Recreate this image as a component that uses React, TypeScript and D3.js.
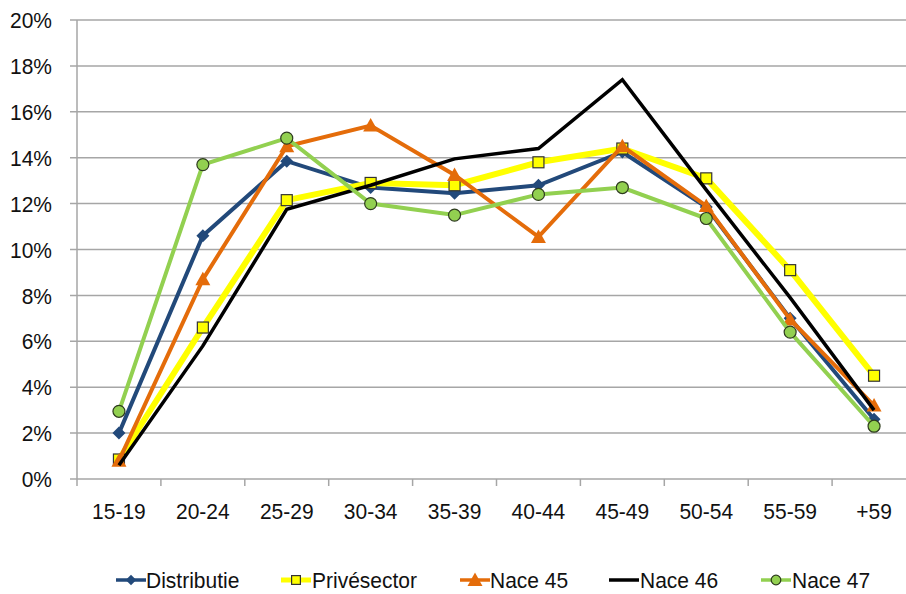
import React from "react";
import * as d3 from "d3";

const categories = ["15-19", "20-24", "25-29", "30-34", "35-39", "40-44", "45-49", "50-54", "55-59", "+59"];
const distributie = [2.0, 10.6, 13.85, 12.7, 12.45, 12.8, 14.25, 11.85, 7.0, 2.6];
const privesector = [0.85, 6.6, 12.15, 12.9, 12.8, 13.8, 14.4, 13.1, 9.1, 4.5];
const nace45 = [0.8, 8.7, 14.5, 15.4, 13.25, 10.55, 14.5, 11.9, 6.95, 3.2];
const nace46 = [0.6, 5.8, 11.75, 12.8, 13.95, 14.4, 17.4, 12.6, 7.9, 3.0];
const nace47 = [2.95, 13.7, 14.85, 12.0, 11.5, 12.4, 12.7, 11.35, 6.4, 2.3];
const yTicks = [0, 2, 4, 6, 8, 10, 12, 14, 16, 18, 20];

const seriesList = [
  { name: "Distributie", values: distributie, color: "#22497a", width: 4, marker: "diamond" },
  { name: "Privésector", values: privesector, color: "#ffff00", width: 6, marker: "square" },
  { name: "Nace 45", values: nace45, color: "#e46c0a", width: 4, marker: "triangle" },
  { name: "Nace 46", values: nace46, color: "#000000", width: 3.5, marker: "none" },
  { name: "Nace 47", values: nace47, color: "#92d050", width: 4, marker: "circle" },
];

const W = 906, H = 594;
const left = 77, right = 916, top = 20, bottom = 479;
const font = "'Liberation Sans', Arial, sans-serif";

function Marker({ type, x, y, color, scale = 1 }: any) {
  if (type === "diamond") {
    const s = 6.5 * scale;
    return <path d={`M${x},${y - s}L${x + s},${y}L${x},${y + s}L${x - s},${y}Z`} fill={color} />;
  }
  if (type === "square") {
    const s = 5.5 * scale;
    return <rect x={x - s} y={y - s} width={2 * s} height={2 * s} fill="#ffff00" stroke="#333" strokeWidth={1.2} />;
  }
  if (type === "triangle") {
    const s = 7.5 * scale;
    return <path d={`M${x},${y - s}L${x + s},${y + s * 0.8}L${x - s},${y + s * 0.8}Z`} fill={color} />;
  }
  if (type === "circle") {
    return <circle cx={x} cy={y} r={6 * scale} fill={color} stroke="#2d3a1e" strokeWidth={1.2} />;
  }
  return null;
}

function Label({ x, y, anchor = "start", children }: any) {
  return (
    <g transform={`translate(${x},${y}) scale(1,1.08)`}>
      <text x={0} y={0} dy="0.36em" textAnchor={anchor} fontFamily={font} fontSize={21} fill="#111">
        {children}
      </text>
    </g>
  );
}

export default function App() {
  const x = d3.scaleBand().domain(categories).range([left, right]);
  const y = d3.scaleLinear().domain([0, 20]).range([bottom, top]);
  const cx = (c: string) => (x(c) as number) + x.bandwidth() / 2;
  const line = d3.line<number>().x((_, i) => cx(categories[i])).y((v) => y(v));

  const legendX = [131, 296, 475, 624, 776];
  const legendTextX = [146, 312, 490, 640, 792];
  const legendY = 580;

  return (
    <svg width={W} height={H} style={{ position: "absolute", left: 0, top: 0, background: "#fff" }}>
      <rect width={W} height={H} fill="#fff" />
      {yTicks.map((t) => (
        <g key={t}>
          <line x1={70} x2={right} y1={y(t)} y2={y(t)} stroke="#a6a6a6" strokeWidth={1.5} />
          <Label x={52} y={y(t)} anchor="end">{t}%</Label>
        </g>
      ))}
      <line x1={left} x2={left} y1={top} y2={bottom} stroke="#a6a6a6" strokeWidth={1.5} />
      {categories.map((c, i) => (
        <line key={"t" + i} x1={x(c) as number} x2={x(c) as number} y1={bottom} y2={bottom + 7} stroke="#a6a6a6" strokeWidth={1.5} />
      ))}
      {categories.map((c) => (
        <Label key={c} x={cx(c)} y={511} anchor="middle">{c}</Label>
      ))}
      {seriesList.map((s) => (
        <g key={s.name}>
          <path d={line(s.values) as string} fill="none" stroke={s.color} strokeWidth={s.width} strokeLinejoin="miter" />
          {s.values.map((v, i) => (
            <Marker key={i} type={s.marker} x={cx(categories[i])} y={y(v)} color={s.color} />
          ))}
        </g>
      ))}
      {seriesList.map((s, i) => (
        <g key={"lg" + s.name}>
          <line x1={legendX[i] - 15} x2={legendX[i] + 15} y1={legendY} y2={legendY} stroke={s.color} strokeWidth={s.marker === "square" ? 5 : 3.5} />
          <Marker type={s.marker} x={legendX[i]} y={legendY} color={s.color} scale={s.marker === "triangle" ? 1 : 0.8} />
          <Label x={legendTextX[i]} y={legendY}>{s.name}</Label>
        </g>
      ))}
    </svg>
  );
}
